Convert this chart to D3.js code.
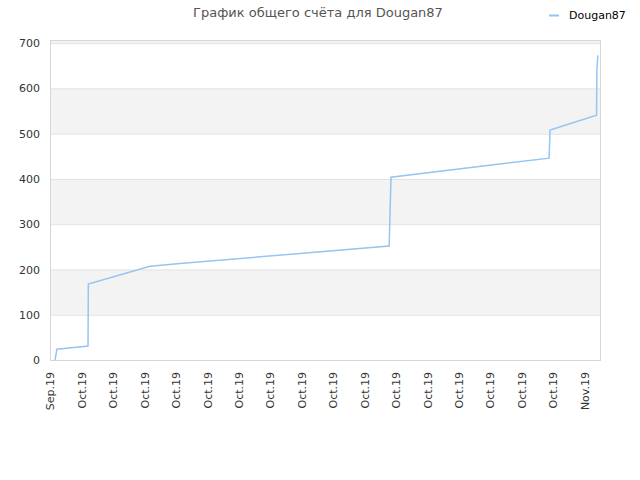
<!DOCTYPE html>
<html>
<head>
<meta charset="utf-8">
<script src="https://cdn.jsdelivr.net/npm/d3@7"></script>
<style>
  body { margin: 0; background: #fff; }
  text { font-family: "DejaVu Sans", sans-serif; }
</style>
</head>
<body>
<div id="container"></div>
<script>
// position along the time axis, in tick steps (0 = Sep.19 tick)
var timePos = [0.16, 0.22, 1.21, 1.22, 3.18, 4.14, 10.79, 10.82, 10.85, 15.88, 15.91, 17.39, 17.40, 17.43];
// total score
var scores  = [0, 24, 31, 168, 207, 213, 252, 325, 404, 446, 508, 541, 638, 673];
var tickLabels = ["Sep.19", "Oct.19", "Oct.19", "Oct.19", "Oct.19", "Oct.19", "Oct.19", "Oct.19", "Oct.19",
                  "Oct.19", "Oct.19", "Oct.19", "Oct.19", "Oct.19", "Oct.19", "Oct.19", "Oct.19", "Nov.19"];
var yTicks = [0, 100, 200, 300, 400, 500, 600, 700];
var seriesName = "Dougan87";

var width = 640, height = 480;
var plotLeft = 50, plotRight = 600, plotTop = 40, plotBottom = 360;

var svg = d3.select("#container").append("svg")
    .attr("width", width)
    .attr("height", height);

var x = d3.scaleLinear().domain([0, 17.5]).range([plotLeft, plotRight]);
var y = d3.scaleLinear().domain([0, 707]).range([plotBottom, plotTop]);

// alternating bands
var bands = d3.range(0, 800, 100);
svg.selectAll("rect.band")
    .data(bands)
    .enter().append("rect")
    .attr("x", plotLeft)
    .attr("width", plotRight - plotLeft)
    .attr("y", function(d){ return y(Math.min(d + 100, 707)); })
    .attr("height", function(d){ return y(d) - y(Math.min(d + 100, 707)); })
    .attr("fill", function(d){ return (d / 100) % 2 === 1 ? "#f3f3f3" : "#ffffff"; });

// gridlines
svg.selectAll("line.grid")
    .data(yTicks)
    .enter().append("line")
    .attr("x1", plotLeft).attr("x2", plotRight)
    .attr("y1", function(d){ return y(d) + 0.5; })
    .attr("y2", function(d){ return y(d) + 0.5; })
    .style("stroke", "#e2e2e2");

// frame
svg.append("rect")
    .attr("x", plotLeft + 0.5).attr("y", plotTop + 0.5)
    .attr("width", plotRight - plotLeft).attr("height", plotBottom - plotTop)
    .attr("fill", "none")
    .style("stroke", "#d6d6d6");

// y axis labels
var yAxis = d3.axisLeft(y).tickValues(yTicks).tickSize(0).tickPadding(10);
var gy = svg.append("g").attr("transform", "translate(" + plotLeft + ",0)").call(yAxis);
gy.select(".domain").remove();
gy.selectAll("text").style("font-size", "11px").attr("fill", "#333");

// x axis labels
var xAxis = d3.axisBottom(x).tickValues(d3.range(tickLabels.length))
    .tickFormat(function(d){ return tickLabels[d]; }).tickSize(0);
var gx = svg.append("g").attr("transform", "translate(0," + plotBottom + ")").call(xAxis);
gx.select(".domain").remove();
gx.selectAll("text")
    .style("font-size", "11px")
    .attr("fill", "#333")
    .attr("text-anchor", "end")
    .attr("transform", "rotate(-90)")
    .attr("x", -12)
    .attr("y", 0)
    .attr("dy", "0.35em");

// line
var line = d3.line()
    .x(function(d, i){ return x(timePos[i]); })
    .y(function(d){ return y(d); });
svg.append("path")
    .datum(scores)
    .attr("d", line)
    .attr("fill", "none")
    .style("stroke", "#94c5f3")
    .style("stroke-width", 1.5);

// title
svg.append("text")
    .attr("x", 318).attr("y", 17)
    .attr("text-anchor", "middle")
    .style("font-size", "13px")
    .attr("fill", "#555")
    .text("График общего счёта для " + seriesName);

// legend
svg.append("line")
    .attr("x1", 549).attr("x2", 559)
    .attr("y1", 15.5).attr("y2", 15.5)
    .style("stroke", "#94c5f3").style("stroke-width", 2);
svg.append("text")
    .attr("x", 569).attr("y", 19)
    .style("font-size", "11px")
    .attr("fill", "#000")
    .text(seriesName);
</script>
</body>
</html>
